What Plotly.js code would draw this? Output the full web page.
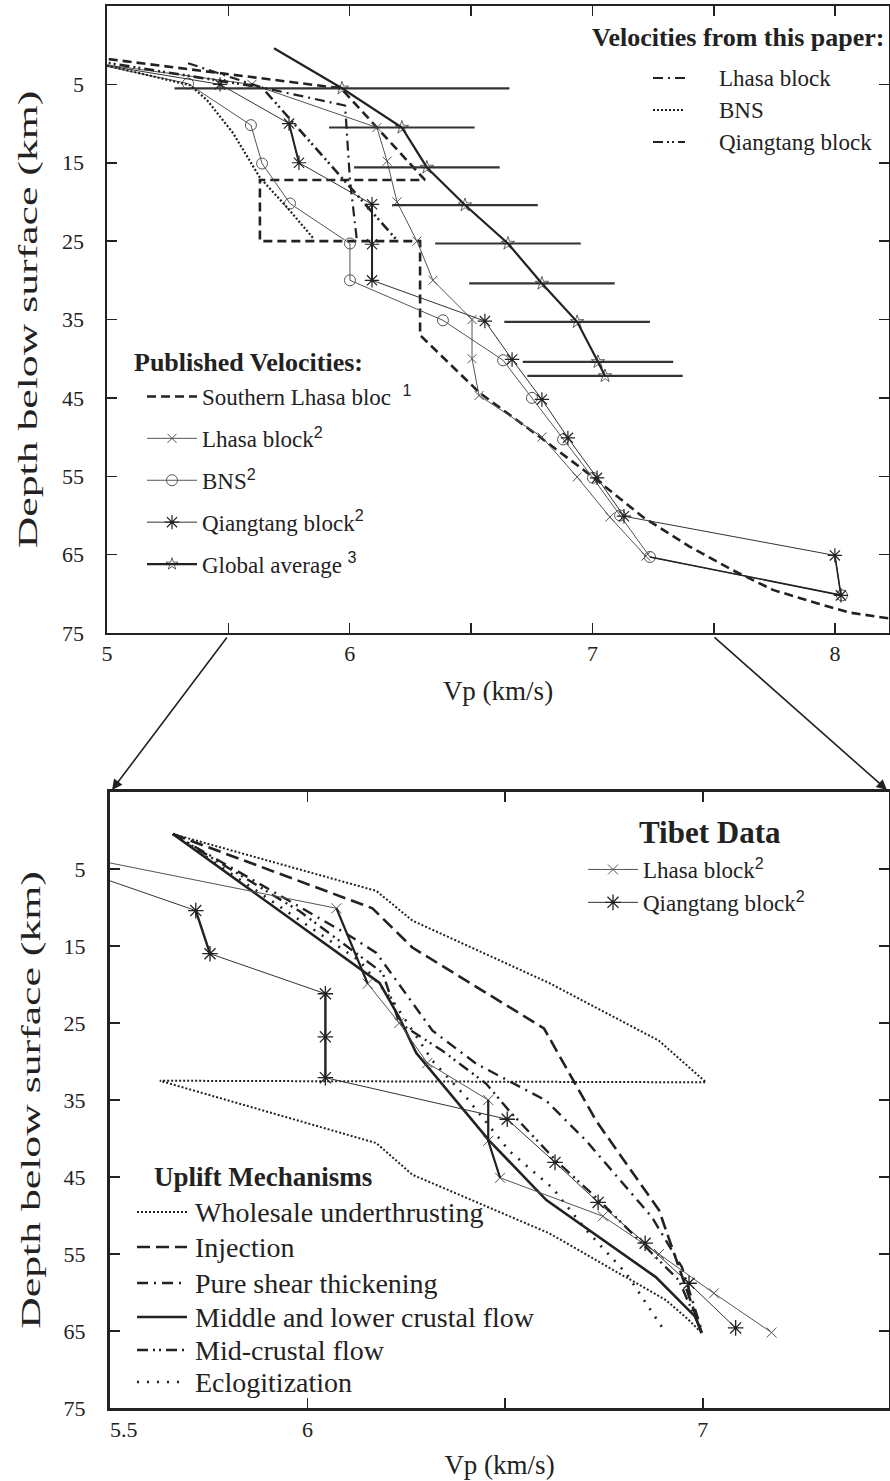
<!DOCTYPE html>
<html>
<head>
<meta charset="utf-8">
<script src="https://cdn.plot.ly/plotly-3.0.1.min.js"></script>
<style>
html,body{margin:0;padding:0;background:#fff;}
#chart{width:890px;height:1481px;}
</style>
</head>
<body>
<div id="chart"></div>
<script>
// ---------------- TOP PANEL DATA (Vp km/s, depth km) ----------------
const southLhasaV = [4.95, 5.964, 6.310, 5.630, 5.630, 6.290, 6.290, 6.537, 6.784, 7.019, 7.208, 7.402, 7.579, 7.744, 7.925, 8.061, 8.26];
const southLhasaD = [1.56, 5.5, 17.2, 17.2, 25.0, 25.0, 37.0, 44.4, 50.0, 55.5, 60.2, 64.0, 67.0, 69.5, 71.2, 72.4, 73.3];

const lhasa2V = [4.92, 5.597, 6.112, 6.154, 6.195, 6.277, 6.343, 6.504, 6.504, 6.533, 6.792, 6.937, 7.072, 7.22];
const lhasa2D = [2.2, 5.0, 10.5, 14.8, 20.0, 25.0, 30.0, 35.0, 40.0, 44.7, 50.0, 55.1, 60.2, 65.2];

const bns2V = [4.92, 5.334, 5.593, 5.639, 5.754, 6.001, 6.001, 6.384, 6.632, 6.751, 6.879, 7.002, 7.114, 7.237, 8.028];
const bns2D = [2.2, 4.9, 10.2, 15.1, 20.2, 25.3, 30.0, 35.1, 40.2, 45.0, 50.3, 55.2, 60.0, 65.3, 70.2];

const qiang2V = [4.92, 5.466, 5.750, 5.791, 6.092, 6.092, 6.092, 6.557, 6.669, 6.792, 6.899, 7.019, 7.130, 7.999, 8.024];
const qiang2D = [2.2, 5.0, 10.0, 15.0, 20.3, 25.4, 30.0, 35.2, 40.1, 45.2, 50.1, 55.2, 60.1, 65.1, 70.2];

const globalV = [5.688, 5.968, 6.215, 6.318, 6.475, 6.652, 6.792, 6.937, 7.023, 7.052];
const globalD = [0.4, 5.5, 10.5, 15.6, 20.4, 25.3, 30.4, 35.3, 40.4, 42.2];
const globalErr = [0, 0.69, 0.30, 0.30, 0.30, 0.30, 0.30, 0.30, 0.31, 0.32];

const paperLhasaV = [5.334, 5.639, 5.981, 6.001, 6.030];
const paperLhasaD = [2.3, 5.4, 7.7, 17.2, 25.0];
const paperBnsV = [5.0, 5.342, 5.412, 5.519, 5.630, 5.742, 5.849];
const paperBnsD = [2.6, 5.1, 7.0, 11.2, 16.9, 20.7, 24.6];
const paperQiangV = [4.95, 5.639, 6.195];
const paperQiangD = [2.0, 5.4, 24.9];

// ---------------- BOTTOM PANEL DATA ----------------
const tibetLhasaV = [5.45, 6.073, 6.152, 6.232, 6.303, 6.457, 6.457, 6.487, 6.747, 6.889, 7.028, 7.174];
const tibetLhasaD = [3.7, 10.1, 19.9, 25.0, 30.2, 35.0, 40.3, 45.1, 50.1, 55.0, 60.1, 65.2];
const tibetQiangV = [5.45, 5.717, 5.753, 6.045, 6.045, 6.045, 6.505, 6.626, 6.735, 6.854, 6.965, 7.083];
const tibetQiangD = [5.65, 10.4, 16.0, 21.2, 26.8, 32.1, 37.5, 43.1, 48.3, 53.6, 58.8, 64.6];

const wholesaleV = [5.659, 6.174, 6.265, 6.611, 6.889, 7.008, 5.626, 6.174, 6.265, 6.611, 6.907, 6.965, 6.998];
const wholesaleD = [0.46, 7.85, 11.7, 19.8, 27.3, 32.7, 32.5, 40.6, 44.7, 52.3, 61.0, 63.6, 65.3];
const injectionV = [5.659, 6.164, 6.265, 6.598, 6.730, 6.889, 6.997];
const injectionD = [0.46, 10.1, 15.2, 25.7, 37.7, 49.3, 65.2];
const pureShearV = [5.659, 6.098, 6.174, 6.316, 6.427, 6.604, 6.705, 6.871, 6.947, 6.997];
const pureShearD = [0.46, 13.4, 15.9, 26.0, 30.3, 35.1, 40.3, 50.2, 56.7, 64.9];
const midLowerV = [5.659, 5.937, 6.182, 6.232, 6.275, 6.460, 6.604, 6.881, 6.982, 6.997];
const midLowerD = [0.46, 10.8, 19.8, 24.3, 28.9, 40.3, 48.0, 58.0, 63.2, 65.3];
const midCrustV = [5.659, 5.98, 6.19, 6.232, 6.341, 6.452, 6.510, 6.629, 6.737, 6.939, 6.995];
const midCrustD = [0.46, 10.5, 18.5, 25.0, 28.6, 32.9, 36.4, 42.9, 48.0, 58.4, 64.9];
const eclogV = [5.659, 5.980, 6.131, 6.215, 6.316, 6.402, 6.510, 6.619, 6.705, 6.806, 6.907];
const eclogD = [0.46, 11.7, 16.9, 22.1, 29.9, 34.7, 41.6, 46.4, 51.9, 57.5, 65.3];

// tick labels
const topXTicks = [5, 5.5, 6, 6.5, 7, 7.5, 8];
const topXLabels = ['5', '', '6', '', '7', '', '8'];
const depthTicks = [5, 15, 25, 35, 45, 55, 65, 75];
const botXTicks = [5.5, 6, 6.5, 7];
const botXLabels = ['\u00a0\u00a0\u00a0\u00a0\u00a05.5', '6', '', '7'];

// legend texts
const paperNames = ['Lhasa block', 'BNS', 'Qiangtang block'];
const upliftNames = ['Wholesale underthrusting', 'Injection', 'Pure shear thickening',
  'Middle and lower crustal flow', 'Mid-crustal flow', 'Eclogitization'];

// ---------------- helpers ----------------
const W = 890, H = 1481;
const px = x => x / W;
const py = y => 1 - y / H;
const SERIF = 'Liberation Serif';
const INK = '#222';
const THIN = '#555';
const sup = n => '<sup><span style="font-family:Liberation Sans">' + n + '</span></sup>';
const pick = (arr, idx) => idx.map(i => arr[i]);

// line styles
const S = {
  paperLhasa: {color: INK, width: 2.2, dash: '10px,5px,2px,5px'},
  paperBns: {color: INK, width: 2.2, dash: '2px,2px'},
  paperQiang: {color: INK, width: 2.6, dash: '10px,4px,2px,3px,2px,4px'},
  wholesale: {color: INK, width: 2, dash: '2px,2px'},
  injection: {color: INK, width: 2.6, dash: '13px,6px'},
  pureShear: {color: INK, width: 2.4, dash: '11px,6px,2px,6px'},
  midLower: {color: INK, width: 2.6},
  midCrust: {color: INK, width: 2.4, dash: '11px,5px,2px,4px,2px,5px'},
  eclog: {color: INK, width: 2.6, dash: '2px,8px'}
};

const traces = [];
function line(name, x, y, opts) {
  const t = Object.assign({type: 'scatter', mode: 'lines', name: name, x: x, y: y,
    xaxis: 'x', yaxis: 'y', hoverinfo: 'skip', showlegend: false}, opts);
  traces.push(t);
  return t;
}
function line2(name, x, y, opts) {
  return line(name, x, y, Object.assign({xaxis: 'x2', yaxis: 'y2'}, opts));
}

// --- top panel, published ---
line('Southern Lhasa bloc  ' + sup(1), southLhasaV, southLhasaD,
  {line: {color: INK, width: 2.6, dash: '9px,5px'}, showlegend: true, legend: 'legend', legendgroup: 'p1'});
line('Lhasa block' + sup(2), lhasa2V, lhasa2D,
  {mode: 'lines+markers', line: {color: THIN, width: 1}, marker: {symbol: 'x-thin-open', size: 9, color: THIN, line: {color: THIN, width: 1}},
   showlegend: true, legend: 'legend', legendgroup: 'p2'});
line('BNS' + sup(2), bns2V, bns2D,
  {mode: 'lines+markers', line: {color: THIN, width: 1}, marker: {symbol: 'circle-open', size: 11, color: THIN, line: {color: THIN, width: 1}},
   showlegend: true, legend: 'legend', legendgroup: 'p3'});
line('Qiangtang block' + sup(2), qiang2V, qiang2D,
  {mode: 'lines+markers', line: {color: '#333', width: 1}, marker: {symbol: 'asterisk-open', size: 12, color: INK, line: {color: INK, width: 1.2}},
   showlegend: true, legend: 'legend', legendgroup: 'p4'});
// thicker repeated segments
line('', pick(qiang2V, [2, 3]), pick(qiang2D, [2, 3]), {line: {color: INK, width: 2}});
line('', pick(qiang2V, [4, 5, 6]), pick(qiang2D, [4, 5, 6]), {line: {color: INK, width: 2}});
line('', pick(qiang2V, [13, 14]), pick(qiang2D, [13, 14]), {line: {color: INK, width: 1.6}});
line('', pick(bns2V, [13, 14]), pick(bns2D, [13, 14]), {line: {color: INK, width: 1.6}});
line('Global average ' + sup(3), globalV, globalD,
  {mode: 'lines+markers', line: {color: INK, width: 2.2},
   marker: {symbol: 'star-open', size: globalV.map((v, i) => i === 0 ? 0 : 10), color: INK, line: {color: INK, width: 1}},
   error_x: {type: 'data', array: globalErr, symmetric: true, thickness: 2.2, width: 0, color: '#333'},
   showlegend: true, legend: 'legend', legendgroup: 'p5'});

// --- top panel, this paper ---
line(paperNames[0], paperLhasaV, paperLhasaD, {line: S.paperLhasa});
line(paperNames[1], paperBnsV, paperBnsD, {line: S.paperBns});
line(paperNames[2], paperQiangV, paperQiangD, {line: S.paperQiang});

// --- bottom panel, mechanisms ---
line2(upliftNames[0], wholesaleV, wholesaleD, {line: S.wholesale});
line2(upliftNames[1], injectionV, injectionD, {line: S.injection});
line2(upliftNames[2], pureShearV, pureShearD, {line: S.pureShear});
line2(upliftNames[3], midLowerV, midLowerD, {line: S.midLower});
line2(upliftNames[4], midCrustV, midCrustD, {line: S.midCrust});
line2(upliftNames[5], eclogV, eclogD, {line: S.eclog});

// --- bottom panel, Tibet data ---
line2('Lhasa block' + sup(2), tibetLhasaV, tibetLhasaD,
  {mode: 'lines+markers', line: {color: THIN, width: 1}, marker: {symbol: 'x-thin-open', size: 10, color: THIN, line: {color: THIN, width: 1}},
   showlegend: true, legend: 'legend3', legendgroup: 't1'});
line2('', pick(tibetLhasaV, [1, 2]), pick(tibetLhasaD, [1, 2]), {line: {color: INK, width: 2.2}});
line2('', pick(tibetLhasaV, [5, 6, 7]), pick(tibetLhasaD, [5, 6, 7]), {line: {color: INK, width: 2.2}});
line2('Qiangtang block' + sup(2), tibetQiangV, tibetQiangD,
  {mode: 'lines+markers', line: {color: '#333', width: 1}, marker: {symbol: 'asterisk-open', size: 13, color: INK, line: {color: INK, width: 1.3}},
   showlegend: true, legend: 'legend3', legendgroup: 't2'});
line2('', pick(tibetQiangV, [1, 2]), pick(tibetQiangD, [1, 2]), {line: {color: INK, width: 2.4}});
line2('', pick(tibetQiangV, [3, 4, 5]), pick(tibetQiangD, [3, 4, 5]), {line: {color: INK, width: 2.4}});

// ---------------- hand-made legends (line-only entries) ----------------
const shapes = [];
const annotations = [];
function legendRow(style, y, x0, x1, xt, text, size) {
  shapes.push({type: 'line', xref: 'paper', yref: 'paper', x0: px(x0), x1: px(x1), y0: py(y), y1: py(y), line: style});
  annotations.push({xref: 'paper', yref: 'paper', x: px(xt), y: py(y), xanchor: 'left', yanchor: 'middle', showarrow: false,
    text: text, font: {family: SERIF, size: size, color: INK}});
}
[S.paperLhasa, S.paperBns, S.paperQiang].forEach((s, i) =>
  legendRow(Object.assign({}, s, {width: 2}), [78, 110, 142][i], 653, 685, 717, paperNames[i], 23));
[S.wholesale, S.injection, S.pureShear, S.midLower, S.midCrust, S.eclog].forEach((s, i) =>
  legendRow(s, [1212, 1247, 1283, 1317, 1350, 1382][i], 137, 187, 193, upliftNames[i], 28));

annotations.push(
  {xref: 'paper', yref: 'paper', x: px(132), y: py(362), xanchor: 'left', yanchor: 'middle', showarrow: false,
   text: '<b>Published Velocities:</b>', font: {family: SERIF, size: 26, color: INK}},
  {xref: 'paper', yref: 'paper', x: px(886), y: py(37), xanchor: 'right', yanchor: 'middle', showarrow: false,
   text: '<b>Velocities from this paper:</b>', font: {family: SERIF, size: 26, color: INK}},
  {xref: 'paper', yref: 'paper', x: px(710), y: py(832), xanchor: 'center', yanchor: 'middle', showarrow: false,
   text: '<b>Tibet Data</b>', font: {family: SERIF, size: 31, color: INK}},
  {xref: 'paper', yref: 'paper', x: px(152), y: py(1177), xanchor: 'left', yanchor: 'middle', showarrow: false,
   text: '<b>Uplift Mechanisms</b>', font: {family: SERIF, size: 27, color: INK}},
  {xref: 'paper', yref: 'paper', x: px(112), y: py(790), ax: 228 - 112, ay: 636 - 790, axref: 'pixel', ayref: 'pixel',
   text: '', showarrow: true, arrowhead: 2, arrowsize: 1.3, arrowwidth: 1.6, arrowcolor: INK},
  {xref: 'paper', yref: 'paper', x: px(887), y: py(790), ax: 713 - 887, ay: 636 - 790, axref: 'pixel', ayref: 'pixel',
   text: '', showarrow: true, arrowhead: 2, arrowsize: 1.3, arrowwidth: 1.6, arrowcolor: INK}
);

// ---------------- layout ----------------
const axisCommon = {
  showline: true, linecolor: INK, linewidth: 1.6, mirror: 'ticks',
  ticks: 'inside', ticklen: 10, tickwidth: 1.5, tickcolor: INK,
  showgrid: false, zeroline: false, fixedrange: true,
  tickfont: {family: SERIF, size: 22, color: INK}
};
const titleFont = {family: SERIF, size: 27, color: INK};
const legendCommon = {bgcolor: 'rgba(0,0,0,0)', borderwidth: 0, xanchor: 'left', yanchor: 'top',
  traceorder: 'grouped', itemclick: false, itemdoubleclick: false, valign: 'middle', itemwidth: 50};

const layout = {
  width: W, height: H,
  margin: {l: 0, r: 0, t: 0, b: 0, pad: 0},
  paper_bgcolor: '#fff', plot_bgcolor: '#fff',
  font: {family: SERIF, color: INK},
  xaxis: Object.assign({}, axisCommon, {
    domain: [px(107), px(889)], range: [5, 8.222], anchor: 'y',
    tickmode: 'array', tickvals: topXTicks, ticktext: topXLabels,
    title: {text: 'Vp (km/s)', font: titleFont, standoff: 16}
  }),
  yaxis: Object.assign({}, axisCommon, {
    domain: [py(633), py(6)], range: [75, -5], anchor: 'x',
    tickmode: 'array', tickvals: depthTicks, ticklabelstandoff: 17,
    title: {text: 'Depth below surface (km)', font: titleFont, standoff: 16}
  }),
  xaxis2: Object.assign({}, axisCommon, {
    domain: [px(110), px(889)], range: [5.5, 7.471], anchor: 'y2', linewidth: 3,
    tickmode: 'array', tickvals: botXTicks, ticktext: botXLabels,
    title: {text: 'Vp (km/s)', font: titleFont, standoff: 14}
  }),
  yaxis2: Object.assign({}, axisCommon, {
    domain: [py(1408), py(792)], range: [75, -5], anchor: 'x2', linewidth: 3,
    tickmode: 'array', tickvals: depthTicks, ticklabelstandoff: 17,
    title: {text: 'Depth below surface (km)', font: titleFont, standoff: 16}
  }),
  showlegend: true,
  legend: Object.assign({}, legendCommon, {x: px(142), y: py(375), font: {family: SERIF, size: 23, color: INK}, tracegroupgap: 9}),
  legend3: Object.assign({}, legendCommon, {x: px(583), y: py(848), font: {family: SERIF, size: 23, color: INK}, tracegroupgap: 0}),
  shapes: shapes,
  annotations: annotations
};

Plotly.newPlot('chart', traces, layout, {displayModeBar: false, staticPlot: true}).then(gd => {
  // the reference's vertical axis titles are stretched along their length
  ['ytitle', 'y2title'].forEach(c => {
    const t = gd.querySelector('text.' + c);
    if (!t) return;
    const x = +t.getAttribute('x'), y = +t.getAttribute('y');
    t.setAttribute('transform', 'rotate(-90,' + x + ',' + y + ') translate(' + x + ',' + y + ') scale(1.62,1) translate(' + (-x) + ',' + (-y) + ')');
  });
});
</script>
</body>
</html>
